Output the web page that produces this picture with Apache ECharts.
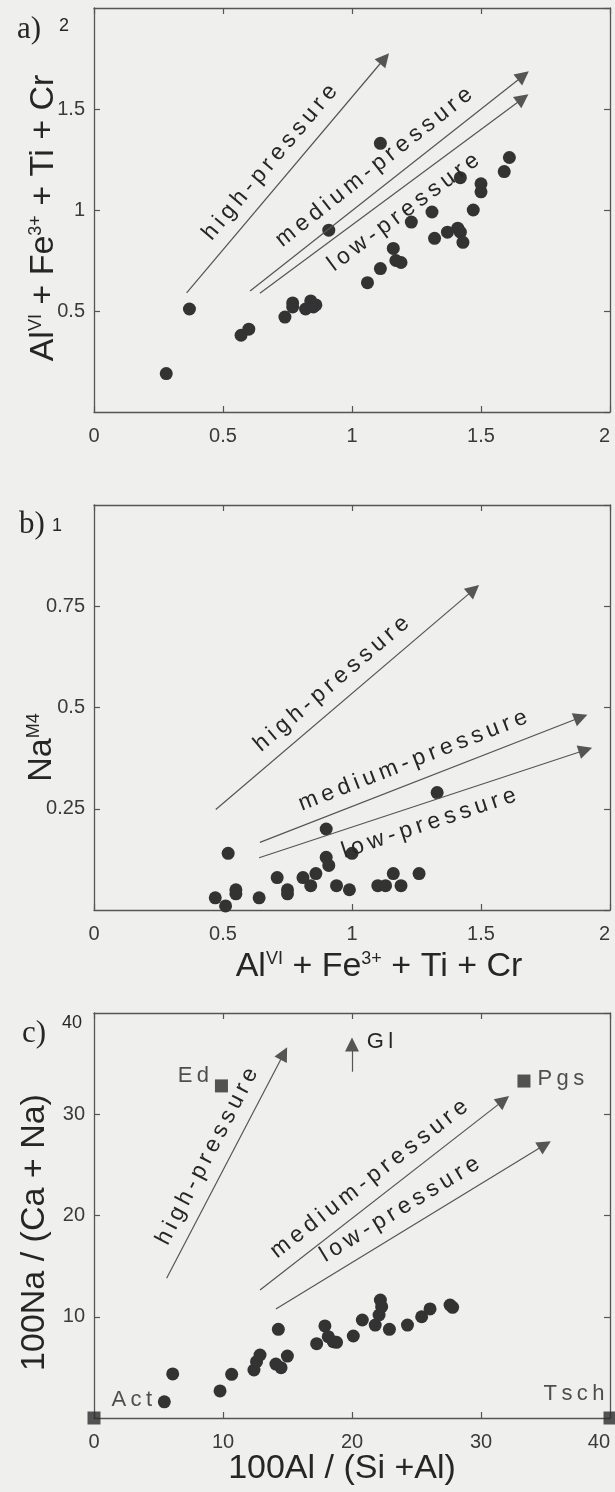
<!DOCTYPE html>
<html>
<head>
<meta charset="utf-8">
<script src="https://cdn.jsdelivr.net/npm/echarts@6/dist/echarts.min.js"></script>
<style>
  html, body { margin: 0; padding: 0; background: #efefed; }
  #main { width: 615px; height: 1492px; }
</style>
</head>
<body>
<div id="main"></div>
<script>
(function () {
  'use strict';

  // amphibole points
  var ptsA = [
    [0.28, 0.19], [0.37, 0.51], [0.57, 0.38], [0.60, 0.41], [0.74, 0.47], [0.77, 0.54],
    [0.77, 0.52], [0.82, 0.51], [0.84, 0.55], [0.85, 0.52], [0.86, 0.53], [0.91, 0.90],
    [1.06, 0.64], [1.11, 0.71], [1.11, 1.33], [1.16, 0.81], [1.17, 0.75], [1.19, 0.74],
    [1.23, 0.94], [1.31, 0.99], [1.32, 0.86], [1.37, 0.89], [1.41, 0.91], [1.42, 0.89],
    [1.42, 1.16], [1.43, 0.84], [1.47, 1.00], [1.50, 1.13], [1.50, 1.09], [1.59, 1.19],
    [1.61, 1.26]
  ];
  var ptsB = [
    [0.47, 0.03], [0.51, 0.01], [0.52, 0.14], [0.55, 0.05], [0.55, 0.04], [0.64, 0.03],
    [0.71, 0.08], [0.75, 0.05], [0.75, 0.04], [0.81, 0.08], [0.84, 0.06], [0.86, 0.09],
    [0.90, 0.20], [0.90, 0.13], [0.91, 0.11], [0.94, 0.06], [0.99, 0.05], [1.00, 0.14],
    [1.10, 0.06], [1.13, 0.06], [1.16, 0.09], [1.19, 0.06], [1.26, 0.09], [1.33, 0.29]
  ];
  var ptsC = [
    [5.45, 1.6], [6.1, 4.35], [9.77, 2.67], [10.67, 4.31], [12.4, 4.74], [12.6, 5.56],
    [12.87, 6.22], [14.1, 5.33], [14.5, 4.97], [14.29, 8.76], [14.99, 6.12], [17.26, 7.34],
    [17.9, 9.09], [18.16, 8.03], [18.55, 7.54], [18.8, 7.47], [20.1, 8.1], [20.8, 9.68],
    [21.8, 9.18], [22.1, 10.17], [22.2, 11.65], [22.3, 11.0], [22.9, 8.76], [24.3, 9.18],
    [25.4, 10.0], [26.05, 10.77], [27.6, 11.16], [27.8, 10.93]
  ];

  // end members (panel c)
  var endNames = ['Act', 'Ed', 'Pgs', 'Tsch'];
  var endPts = [[0, 0], [9.88, 32.8], [33.33, 33.28], [40, 0]];

  // pressure trend arrows: [start, end] in data units
  var arrowNames = ['high-pressure', 'medium-pressure', 'low-pressure'];
  var arrowsA = [[[0.359, 0.59], [1.126, 1.75]], [[0.605, 0.599], [1.664, 1.665]], [[0.643, 0.588], [1.662, 1.552]]];
  var arrowsB = [[[0.472, 0.248], [1.472, 0.791]], [[0.643, 0.167], [1.887, 0.476]], [[0.640, 0.129], [1.905, 0.395]]];
  var arrowsC = [[[5.63, 13.8], [14.72, 36.0]], [[12.87, 12.64], [31.75, 31.37]], [[14.1, 10.77], [34.95, 26.98]]];
  var glArrow = [[20, 34.2], [20, 36.9]];

  // ticks
  var ticksX = [0, 0.5, 1, 1.5, 2];
  var ticksYA = [0, 0.5, 1, 1.5, 2];
  var ticksYB = [0, 0.25, 0.5, 0.75, 1];
  var ticksC = [0, 10, 20, 30, 40];

  var FONT = '"Liberation Sans", Arial, sans-serif';
  var SERIF = '"Liberation Serif", "Times New Roman", serif';
  var TXT = '#262626';
  var LINE = '#555';
  var DOT = '#333';

  var titleAl = 'Al{sup|VI} + Fe{sup|3+} + Ti + Cr';
  var titleNa = 'Na{sup|M4}';
  var titleNaCa = '100Na / (Ca + Na)';
  var titleAlSi = '100Al / (Si +Al)';

  var RICH = {
    sup: { fontSize: 18, fontFamily: FONT, color: TXT, verticalAlign: 'top' }
  };

  function spaced(s) { // letters drawn with wide tracking in the source
    return s.split('').join('\u2009');
  }

  function axis(grid, ticks, pos, withLabels) {
    return {
      type: 'value',
      gridIndex: grid,
      position: pos,
      min: ticks[0],
      max: ticks[ticks.length - 1],
      interval: ticks[1] - ticks[0],
      axisLine: { show: true, onZero: false, lineStyle: { color: LINE, width: 1.3 } },
      axisTick: { show: true, inside: true, length: 6, lineStyle: { color: LINE, width: 1.2 } },
      axisLabel: { show: withLabels, fontSize: 20, color: '#3a3a3a', fontFamily: FONT },
      splitLine: { show: false }
    };
  }

  function xBottom(grid, ticks, name, gap, pad) {
    var a = axis(grid, ticks, 'bottom', true);
    a.axisLabel.margin = 14;
    a.axisLabel.alignMaxLabel = 'right';
    if (name) {
      a.name = name;
      a.nameLocation = 'middle';
      a.nameGap = gap;
      a.nameMoveOverlap = false;
      a.nameTextStyle = { fontSize: 34, color: TXT, fontFamily: FONT, padding: pad, rich: RICH };
    }
    return a;
  }

  function yLeft(grid, ticks, name, gap, pad) {
    var a = axis(grid, ticks, 'left', true);
    a.axisLabel.margin = 9;
    a.axisLabel.showMinLabel = false;
    a.axisLabel.showMaxLabel = false;
    a.name = name;
    a.nameLocation = 'middle';
    a.nameRotate = 90;
    a.nameGap = gap;
    a.nameMoveOverlap = false;
    a.nameTextStyle = { fontSize: 34, color: TXT, fontFamily: FONT, padding: pad, rich: RICH };
    return a;
  }

  function arrowLines(arr, sides) {
    return arr.map(function (a, i) {
      return [{
        coord: a[0],
        label: {
          show: true,
          formatter: spaced(arrowNames[i]),
          position: sides[i] === 't' ? 'insideMiddleTop' : 'insideMiddleBottom',
          distance: 9,
          fontSize: 23,
          color: TXT,
          fontFamily: FONT
        }
      }, { coord: a[1] }];
    });
  }

  function markArrows(data) {
    return {
      silent: true,
      symbol: ['none', 'triangle'],
      symbolSize: 14,
      lineStyle: { color: LINE, width: 1.2, type: 'solid' },
      itemStyle: { color: '#333' },
      label: { show: false },
      data: data
    };
  }

  function dots(grid, pts, marks) {
    return {
      type: 'scatter',
      xAxisIndex: grid,
      yAxisIndex: grid,
      symbol: 'circle',
      symbolSize: 13,
      itemStyle: { color: DOT, opacity: 1 },
      data: pts,
      markLine: markArrows(marks)
    };
  }

  var labC = arrowLines(arrowsC, ['t', 't', 't']);
  labC.push([{
    coord: glArrow[0],
    label: { show: true, formatter: spaced('Gl'), position: 'end', offset: [28, 14],
      fontSize: 22, color: TXT, fontFamily: FONT }
  }, { coord: glArrow[1] }]);

  var endLabels = [
    { position: 'right', offset: [6, -18] },
    { position: 'left', offset: [-1, -10] },
    { position: 'right', offset: [2, -2] },
    { position: 'left', offset: [6, -24] }
  ];

  var endData = endPts.map(function (p, i) {
    return {
      value: p,
      name: endNames[i],
      label: {
        show: true,
        formatter: spaced(endNames[i]),
        position: endLabels[i].position,
        offset: endLabels[i].offset,
        fontSize: 22,
        color: TXT,
        fontFamily: FONT
      }
    };
  });

  function corner(text, x, y, size, family) {
    return {
      type: 'text',
      left: x, top: y,
      style: { text: text, fontSize: size, fontFamily: family, fill: TXT }
    };
  }

  var myChart = echarts.init(document.getElementById('main'), null, { renderer: 'canvas' });

  var option = {
    animation: false,
    backgroundColor: '#efefed',
    textStyle: { fontFamily: FONT },
    grid: [
      { left: 94, top: 8, width: 516, height: 404 },
      { left: 94, top: 505, width: 516, height: 405 },
      { left: 94, top: 1013, width: 516, height: 405 }
    ],
    xAxis: [
      xBottom(0, ticksX, null),
      xBottom(1, ticksX, titleAl, 40, [0, 0, 0, 54]),
      xBottom(2, ticksC, titleAlSi, 34, [0, 20, 0, 0]),
      axis(0, ticksX, 'top', false),
      axis(1, ticksX, 'top', false),
      axis(2, ticksC, 'top', false)
    ],
    yAxis: [
      yLeft(0, ticksYA, titleAl, 33, [0, 16, 0, 0]),
      yLeft(1, ticksYB, titleNa, 35, [0, 80, 0, 0]),
      yLeft(2, ticksC, titleNaCa, 42, [0, 34, 0, 0]),
      axis(0, ticksYA, 'right', false),
      axis(1, ticksYB, 'right', false),
      axis(2, ticksC, 'right', false)
    ],
    graphic: [
      corner('a)', 17, 14, 31, SERIF),
      corner(String(ticksYA[ticksYA.length - 1]), 59, 17, 18, FONT),
      corner('b)', 19, 509, 31, SERIF),
      corner(String(ticksYB[ticksYB.length - 1]), 52, 517, 18, FONT),
      corner('c)', 22, 1018, 31, SERIF),
      corner(String(ticksC[ticksC.length - 1]), 62, 1014, 18, FONT)
    ],
    series: [
      dots(0, ptsA, arrowLines(arrowsA, ['t', 't', 'b'])),
      dots(1, ptsB, arrowLines(arrowsB, ['t', 't', 'b'])),
      dots(2, ptsC, labC),
      {
        type: 'scatter',
        xAxisIndex: 2,
        yAxisIndex: 2,
        symbol: 'rect',
        symbolSize: 13,
        clip: false,
        itemStyle: { color: '#2a2a2a' },
        data: endData
      }
    ]
  };

  myChart.setOption(option);
}());
</script>
</body>
</html>
